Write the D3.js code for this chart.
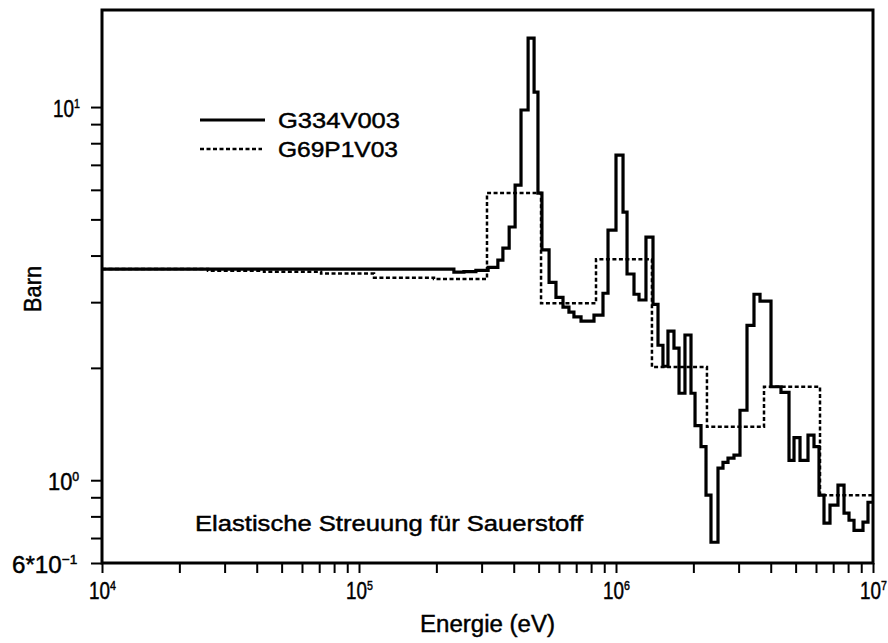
<!DOCTYPE html>
<html>
<head>
<meta charset="utf-8">
<script src="https://cdn.jsdelivr.net/npm/d3@7"></script>
<style>
  html, body { margin: 0; padding: 0; background: #fff; }
  svg { display: block; }
  text { font-family: "Liberation Sans", "DejaVu Sans", sans-serif; fill: #000; stroke: #000; stroke-width: 0.45px; }
</style>
</head>
<body>
<svg id="chart" width="888" height="643"></svg>
<script>
// ---- Data (energies in eV, cross sections in barn) ----
const seriesNames = ["G334V003", "G69P1V03"];

// G334V003 : histogram bin edges and values
const solidEdges = [1e4, 2.34e5, 2.56e5, 2.85e5, 3.18e5, 3.47e5, 3.63e5, 3.84e5, 4.05e5, 4.27e5,
  4.55e5, 4.80e5, 4.97e5, 5.15e5, 5.49e5, 5.84e5, 6.22e5, 6.56e5, 6.86e5, 7.31e5,
  8.21e5, 8.90e5, 9.31e5, 1.0e6, 1.065e6, 1.104e6, 1.175e6, 1.229e6, 1.308e6, 1.393e6,
  1.457e6, 1.523e6, 1.593e6, 1.681e6, 1.759e6, 1.855e6, 1.958e6, 2.03e6, 2.142e6, 2.24e6,
  2.342e6, 2.494e6, 2.608e6, 2.728e6, 2.878e6, 3.037e6, 3.234e6, 3.443e6, 3.634e6, 4.01e6,
  4.385e6, 4.712e6, 4.928e6, 5.2e6, 5.586e6, 5.894e6, 6.165e6, 6.447e6, 6.803e6, 7.307e6,
  7.714e6, 8.066e6, 8.436e6, 9.143e6, 9.561e6, 1e7];
const solidValues = [3.68, 3.61, 3.62, 3.65, 3.72, 3.89, 4.19, 4.77, 6.18, 9.82,
  15.3, 10.97, 5.88, 4.14, 3.39, 3.09, 2.91, 2.82, 2.74, 2.67,
  2.77, 3.17, 4.68, 7.43, 5.23, 3.57, 3.15, 3.04, 4.48, 2.96,
  2.30, 2.02, 2.51, 2.26, 1.71, 2.45, 1.71, 1.40, 1.23, 0.912,
  0.682, 1.077, 1.117, 1.146, 1.167, 1.54, 2.60, 3.15, 3.02, 1.78,
  1.72, 1.13, 1.30, 1.13, 1.32, 1.23, 0.912, 0.767, 0.857, 0.970,
  0.816, 0.781, 0.734, 0.772, 0.873];

// G69P1V03 : histogram bin edges and values
const dashedEdges = [1e4, 2.585e4, 4.27e4, 7.12e4, 1.144e5, 1.958e5, 3.148e5, 5.109e5,
  8.36e5, 1.38e6, 2.259e6, 3.766e6, 6.22e6, 1e7];
const dashedValues = [3.68, 3.64, 3.62, 3.58, 3.49, 3.46, 5.88, 2.98, 3.91, 2.01, 1.39, 1.78, 0.912];

// Tick labels
const xMajorTicks = [1e4, 1e5, 1e6, 1e7];
const xTickExponents = ["4", "5", "6", "7"];
const yLabelTicks = [10, 1, 0.6];
const yTickMantissas = ["10", "10", "6*10"];
const yTickExponents = ["1", "0", "\u22121"];

const titleText = "Elastische Streuung f\u00fcr Sauerstoff";
const xTitle = "Energie (eV)";
const yTitle = "Barn";

// ---- Layout ----
const svg = d3.select("#chart");
const L = 102, R = 873, T = 10, B = 563;

const x = d3.scaleLog().domain([1e4, 1e7]).range([L, R]);
const y = d3.scaleLog().domain([0.6, 18.2]).range([B, T]);

// minor tick values
const xMinor = [];
for (let d = 1e4; d < 1e7; d *= 10) for (let k = 1; k < 10; k++) xMinor.push(d * k);
xMinor.push(1e7);
const yMinor = [0.6, 0.7, 0.8, 0.9, 1, 2, 3, 4, 5, 6, 7, 8, 9, 10];

// axes ticks
const gx = svg.append("g").attr("transform", `translate(0,${B})`)
  .call(d3.axisBottom(x).tickValues(xMinor).tickSize(10).tickFormat(""));
gx.select(".domain").remove();
gx.selectAll("line").attr("stroke", "#000").attr("stroke-width", 2);

const gy = svg.append("g").attr("transform", `translate(${L},0)`)
  .call(d3.axisLeft(y).tickValues(yMinor).tickSize(11).tickFormat(""));
gy.select(".domain").remove();
gy.selectAll("line").attr("stroke", "#000").attr("stroke-width", 2);

// frame
svg.append("rect").attr("x", L).attr("y", T).attr("width", R - L).attr("height", B - T)
  .attr("fill", "none").attr("stroke", "#000").attr("stroke-width", 3);

// x tick labels (one text each, exponent as superscript tspan, narrowed by a scale)
xMajorTicks.forEach((v, i) => {
  const t = svg.append("text")
    .attr("transform", `translate(${x(v) - 13},599) scale(0.82,1)`)
    .attr("font-size", 23);
  t.append("tspan").text("10");
  t.append("tspan").attr("dy", -9).attr("font-size", 13).text(xTickExponents[i]);
});

// y tick labels
const yLabelX = [53, 48, 12];
const yLabelScale = [0.82, 0.95, 1.05];
yLabelTicks.forEach((v, i) => {
  const t = svg.append("text")
    .attr("transform", `translate(${yLabelX[i]},${y(v) + 10}) scale(${yLabelScale[i]},1)`)
    .attr("font-size", 23);
  t.append("tspan").text(yTickMantissas[i]);
  t.append("tspan").attr("dy", -9).attr("font-size", 13).text(yTickExponents[i]);
});

// histogram lines
function stepPoints(edges, values) {
  const pts = values.map((v, i) => [edges[i], v]);
  pts.push([edges[edges.length - 1], values[values.length - 1]]);
  return pts;
}
const line = d3.line().x(d => x(d[0])).y(d => y(d[1])).curve(d3.curveStepAfter);

svg.append("path").datum(stepPoints(dashedEdges, dashedValues))
  .attr("d", line).attr("fill", "none").attr("stroke", "#000")
  .attr("stroke-width", 2.5).attr("stroke-dasharray", "4,2.5");

svg.append("path").datum(stepPoints(solidEdges, solidValues))
  .attr("d", line).attr("fill", "none").attr("stroke", "#000")
  .attr("stroke-width", 3.2).attr("stroke-linejoin", "miter");

// legend
svg.append("line").attr("x1", 200).attr("x2", 265).attr("y1", 120).attr("y2", 120)
  .attr("stroke", "#000").attr("stroke-width", 3.2);
svg.append("text").attr("x", 278).attr("y", 128).attr("font-size", 22)
  .attr("textLength", 122).attr("lengthAdjust", "spacingAndGlyphs").text(seriesNames[0]);
svg.append("line").attr("x1", 200).attr("x2", 262).attr("y1", 149).attr("y2", 149)
  .attr("stroke", "#000").attr("stroke-width", 2.5).attr("stroke-dasharray", "4,2.5");
svg.append("text").attr("x", 278).attr("y", 157).attr("font-size", 22)
  .attr("textLength", 120).attr("lengthAdjust", "spacingAndGlyphs").text(seriesNames[1]);

// annotation
svg.append("text").attr("x", 195).attr("y", 531).attr("font-size", 22)
  .attr("textLength", 388).attr("lengthAdjust", "spacingAndGlyphs").text(titleText);

// axis titles
svg.append("text").attr("x", 420).attr("y", 632)
  .attr("font-size", 23).attr("textLength", 135).attr("lengthAdjust", "spacingAndGlyphs").text(xTitle);
svg.append("text").attr("transform", "translate(41,312) rotate(-90)")
  .attr("font-size", 23).attr("textLength", 46).attr("lengthAdjust", "spacingAndGlyphs").text(yTitle);
</script>
</body>
</html>
